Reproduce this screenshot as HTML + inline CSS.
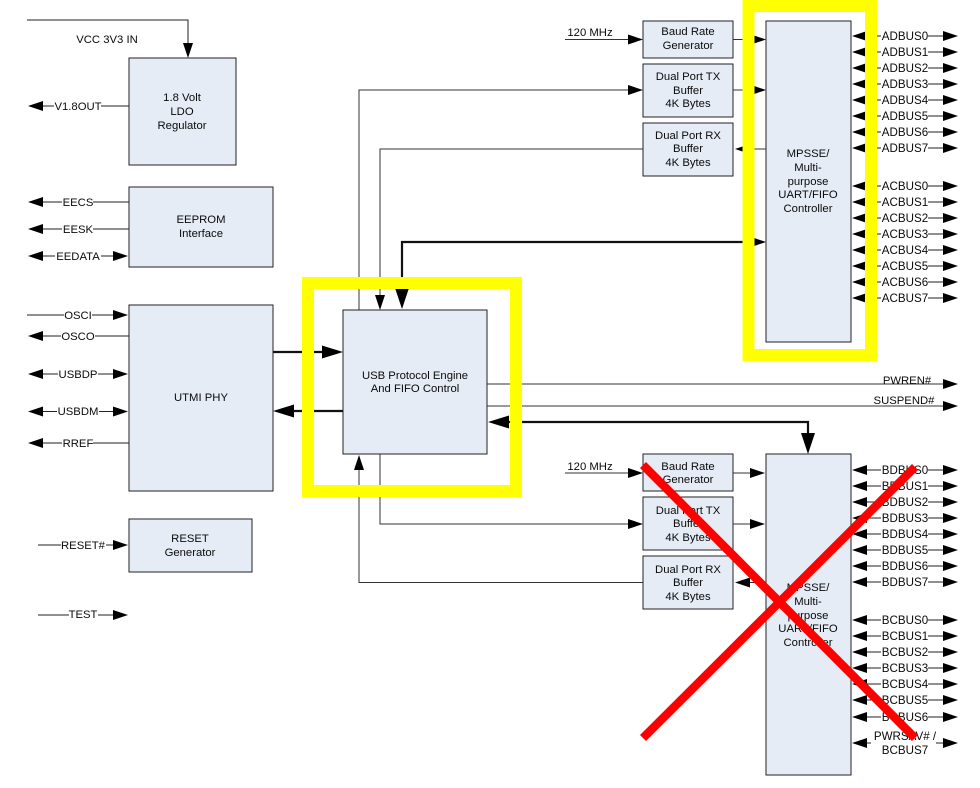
<!DOCTYPE html>
<html>
<head>
<meta charset="utf-8">
<style>
html,body{margin:0;padding:0;background:#fff;}
svg{display:block;}
text{font-family:"Liberation Sans",sans-serif;font-size:11.3px;fill:#0a0a0a;}
.c text,text.c{text-anchor:middle;}
.b text{font-size:11.6px;}
</style>
</head>
<body>
<svg width="980" height="788" viewBox="0 0 980 788" xmlns="http://www.w3.org/2000/svg">
<defs>
<polygon id="R" points="0,0 -15,-5 -15,5" fill="#000"/>
<polygon id="L" points="0,0 15,-5 15,5" fill="#000"/>
<polygon id="BR" points="0,0 -21,-6.5 -21,6.5" fill="#000"/>
<polygon id="BL" points="0,0 21,-6.5 21,6.5" fill="#000"/>
<polygon id="D" points="0,0 -5,-15 5,-15" fill="#000"/>
<polygon id="U" points="0,0 -5,15 5,15" fill="#000"/>
<polygon id="BD" points="0,0 -7,-21 7,-21" fill="#000"/>
</defs>

<!-- boxes -->
<g fill="#e6ecf6" stroke="#222" stroke-width="1">
<rect x="129" y="58" width="107" height="107"/>
<rect x="129" y="187" width="144" height="80"/>
<rect x="129" y="305" width="144" height="186"/>
<rect x="129" y="519" width="123" height="53"/>
<rect x="343" y="310" width="144" height="144"/>
<rect x="643" y="21" width="90" height="37"/>
<rect x="643" y="64" width="90" height="53"/>
<rect x="643" y="123" width="90" height="53"/>
<rect x="766" y="21" width="85" height="321"/>
<rect x="643" y="454" width="90" height="37"/>
<rect x="643" y="497" width="90" height="53"/>
<rect x="643" y="556" width="90" height="53"/>
<rect x="766" y="454" width="85" height="321"/>
</g>

<!-- left connectors -->
<g fill="none" stroke="#222" stroke-width="1">
<path d="M27 20H188V44"/>
<path d="M43 106H54M101 106H129"/>
<path d="M43 202H62M93 202H129"/>
<path d="M43 229H62M93 229H129"/>
<path d="M43 256H55M101 256H114"/>
<path d="M27 315H64M92 315H114"/>
<path d="M43 336H61M95 336H129"/>
<path d="M43 374H58M98 374H114"/>
<path d="M43 411.5H57M99 411.5H114"/>
<path d="M43 443H62M93 443H129"/>
<path d="M38 545H61M106 545H114"/>
<path d="M38 615H69M98 615H114"/>
</g>
<use href="#D" x="188" y="58"/>
<use href="#L" x="28" y="106"/>
<use href="#L" x="28" y="202"/>
<use href="#L" x="28" y="229"/>
<use href="#L" x="28" y="256"/><use href="#R" x="128" y="256"/>
<use href="#R" x="128" y="315"/>
<use href="#L" x="28" y="336"/>
<use href="#L" x="28" y="374"/><use href="#R" x="128" y="374"/>
<use href="#L" x="28" y="411.5"/><use href="#R" x="128" y="411.5"/>
<use href="#L" x="28" y="443"/>
<use href="#R" x="128" y="545"/>
<use href="#R" x="128" y="615"/>

<!-- thick connectors -->
<g fill="none" stroke="#111" stroke-width="2.2">
<path d="M273 352H325"/>
<path d="M343 411H292"/>
<path d="M402 292V242H752"/>
<path d="M505 422H808V438"/>
</g>
<use href="#BR" x="343" y="352"/>
<use href="#BL" x="273" y="411"/>
<use href="#BD" x="402" y="309"/>
<use href="#BL" x="488" y="422"/>
<use href="#BD" x="808" y="454"/>
<use href="#R" x="766" y="242"/>

<!-- thin connectors middle -->
<g fill="none" stroke="#333" stroke-width="1">
<path d="M359 310V90H630"/>
<path d="M643 149H380V296"/>
<path d="M565 39.5H630"/>
<path d="M733 39.5H752"/>
<path d="M733 90H752"/>
<path d="M766 149H748"/>
<path d="M487 384H945"/>
<path d="M487 406H945"/>
<path d="M565 473H630"/>
<path d="M733 473H752"/>
<path d="M380 454V524H630"/>
<path d="M733 524H752"/>
<path d="M643 582.5H359V468"/>
<path d="M766 582.5H748"/>
</g>
<use href="#R" x="643" y="90"/>
<use href="#D" x="380" y="310"/>
<use href="#R" x="643" y="39.5"/>
<use href="#R" x="766" y="39.5"/>
<use href="#R" x="766" y="90"/>
<use href="#L" x="735" y="149"/>
<use href="#R" x="958" y="384"/>
<use href="#R" x="958" y="406"/>
<use href="#R" x="643" y="473"/>
<use href="#R" x="765" y="473"/>
<use href="#R" x="643" y="524"/>
<use href="#R" x="765" y="524"/>
<use href="#U" x="359" y="455"/>
<use href="#L" x="735" y="582.5"/>

<!-- bus lines -->
<path fill="none" stroke="#222" stroke-width="1" d="
M866 36H881M928 36H943M866 52H881M928 52H943M866 68H881M928 68H943M866 84H881M928 84H943
M866 100H881M928 100H943M866 116H881M928 116H943M866 132H881M928 132H943M866 148H881M928 148H943
M866 186H881M928 186H943M866 202H881M928 202H943M866 218H881M928 218H943M866 234H881M928 234H943
M866 250H881M928 250H943M866 266H881M928 266H943M866 282H881M928 282H943M866 298H881M928 298H943
M866 470H881M928 470H943M866 486H881M928 486H943M866 502H881M928 502H943M866 518H881M928 518H943
M866 534H881M928 534H943M866 550H881M928 550H943M866 566H881M928 566H943M866 582H881M928 582H943
M866 620H881M928 620H943M866 636H881M928 636H943M866 652H881M928 652H943M866 668H881M928 668H943
M866 684H881M928 684H943M866 700H881M928 700H943M866 717H881M928 717H943
M866 743H871M936 743H943"/>

<g>
<use href="#L" x="852" y="36"/><use href="#R" x="958" y="36"/>
<use href="#L" x="852" y="52"/><use href="#R" x="958" y="52"/>
<use href="#L" x="852" y="68"/><use href="#R" x="958" y="68"/>
<use href="#L" x="852" y="84"/><use href="#R" x="958" y="84"/>
<use href="#L" x="852" y="100"/><use href="#R" x="958" y="100"/>
<use href="#L" x="852" y="116"/><use href="#R" x="958" y="116"/>
<use href="#L" x="852" y="132"/><use href="#R" x="958" y="132"/>
<use href="#L" x="852" y="148"/><use href="#R" x="958" y="148"/>
<use href="#L" x="852" y="186"/><use href="#R" x="958" y="186"/>
<use href="#L" x="852" y="202"/><use href="#R" x="958" y="202"/>
<use href="#L" x="852" y="218"/><use href="#R" x="958" y="218"/>
<use href="#L" x="852" y="234"/><use href="#R" x="958" y="234"/>
<use href="#L" x="852" y="250"/><use href="#R" x="958" y="250"/>
<use href="#L" x="852" y="266"/><use href="#R" x="958" y="266"/>
<use href="#L" x="852" y="282"/><use href="#R" x="958" y="282"/>
<use href="#L" x="852" y="298"/><use href="#R" x="958" y="298"/>
<use href="#L" x="852" y="470"/><use href="#R" x="958" y="470"/>
<use href="#L" x="852" y="486"/><use href="#R" x="958" y="486"/>
<use href="#L" x="852" y="502"/><use href="#R" x="958" y="502"/>
<use href="#L" x="852" y="518"/><use href="#R" x="958" y="518"/>
<use href="#L" x="852" y="534"/><use href="#R" x="958" y="534"/>
<use href="#L" x="852" y="550"/><use href="#R" x="958" y="550"/>
<use href="#L" x="852" y="566"/><use href="#R" x="958" y="566"/>
<use href="#L" x="852" y="582"/><use href="#R" x="958" y="582"/>
<use href="#L" x="852" y="620"/><use href="#R" x="958" y="620"/>
<use href="#L" x="852" y="636"/><use href="#R" x="958" y="636"/>
<use href="#L" x="852" y="652"/><use href="#R" x="958" y="652"/>
<use href="#L" x="852" y="668"/><use href="#R" x="958" y="668"/>
<use href="#L" x="852" y="684"/><use href="#R" x="958" y="684"/>
<use href="#L" x="852" y="700"/><use href="#R" x="958" y="700"/>
<use href="#L" x="852" y="717"/><use href="#R" x="958" y="717"/>
<use href="#L" x="852" y="743"/><use href="#R" x="958" y="743"/>
</g>

<!-- labels -->
<g class="c">
<text x="107" y="43">VCC 3V3 IN</text>
<text x="182" y="101">1.8 Volt</text>
<text x="182" y="115">LDO</text>
<text x="182" y="129">Regulator</text>
<text x="78" y="110">V1.8OUT</text>
<text x="78" y="206">EECS</text>
<text x="78" y="233">EESK</text>
<text x="78" y="260">EEDATA</text>
<text x="201" y="223">EEPROM</text>
<text x="201" y="237">Interface</text>
<text x="78" y="319">OSCI</text>
<text x="78" y="340">OSCO</text>
<text x="78" y="378">USBDP</text>
<text x="78" y="415">USBDM</text>
<text x="78" y="447">RREF</text>
<text x="83" y="549">RESET#</text>
<text x="83" y="618">TEST</text>
<text x="201" y="401">UTMI PHY</text>
<text x="190" y="542">RESET</text>
<text x="190" y="556">Generator</text>
<text x="415" y="379">USB Protocol Engine</text>
<text x="415" y="392">And FIFO Control</text>
<text x="590" y="36">120 MHz</text>
<text x="590" y="470">120 MHz</text>
<text x="688" y="35">Baud Rate</text>
<text x="688" y="49">Generator</text>
<text x="688" y="80">Dual Port TX</text>
<text x="688" y="94">Buffer</text>
<text x="688" y="107">4K Bytes</text>
<text x="688" y="139">Dual Port RX</text>
<text x="688" y="152">Buffer</text>
<text x="688" y="166">4K Bytes</text>
<text x="688" y="470">Baud Rate</text>
<text x="688" y="483">Generator</text>
<text x="688" y="514">Dual Port TX</text>
<text x="688" y="527">Buffer</text>
<text x="688" y="541">4K Bytes</text>
<text x="688" y="573">Dual Port RX</text>
<text x="688" y="586">Buffer</text>
<text x="688" y="600">4K Bytes</text>
<text x="808" y="157">MPSSE/</text>
<text x="808" y="171">Multi-</text>
<text x="808" y="185">purpose</text>
<text x="808" y="198">UART/FIFO</text>
<text x="808" y="212">Controller</text>
<text x="808" y="591">MPSSE/</text>
<text x="808" y="605">Multi-</text>
<text x="808" y="619">purpose</text>
<text x="808" y="632">UART/FIFO</text>
<text x="808" y="646">Controller</text>
<text x="907" y="384">PWREN#</text>
<text x="904" y="404">SUSPEND#</text>
</g>
<g class="c b">
<text x="905" y="40">ADBUS0</text>
<text x="905" y="56">ADBUS1</text>
<text x="905" y="72">ADBUS2</text>
<text x="905" y="88">ADBUS3</text>
<text x="905" y="104">ADBUS4</text>
<text x="905" y="120">ADBUS5</text>
<text x="905" y="136">ADBUS6</text>
<text x="905" y="152">ADBUS7</text>
<text x="905" y="190">ACBUS0</text>
<text x="905" y="206">ACBUS1</text>
<text x="905" y="222">ACBUS2</text>
<text x="905" y="238">ACBUS3</text>
<text x="905" y="254">ACBUS4</text>
<text x="905" y="270">ACBUS5</text>
<text x="905" y="286">ACBUS6</text>
<text x="905" y="302">ACBUS7</text>
<text x="905" y="474">BDBUS0</text>
<text x="905" y="490">BDBUS1</text>
<text x="905" y="506">BDBUS2</text>
<text x="905" y="522">BDBUS3</text>
<text x="905" y="538">BDBUS4</text>
<text x="905" y="554">BDBUS5</text>
<text x="905" y="570">BDBUS6</text>
<text x="905" y="586">BDBUS7</text>
<text x="905" y="624">BCBUS0</text>
<text x="905" y="640">BCBUS1</text>
<text x="905" y="656">BCBUS2</text>
<text x="905" y="672">BCBUS3</text>
<text x="905" y="688">BCBUS4</text>
<text x="905" y="704">BCBUS5</text>
<text x="905" y="721">BCBUS6</text>
<text x="905" y="740">PWRSAV# /</text>
<text x="905" y="754">BCBUS7</text>
</g>

<!-- highlights -->
<g fill="none" stroke="#ffff00" stroke-width="12">
<rect x="748.5" y="6" width="122.5" height="349"/>
<rect x="308" y="283" width="208" height="208"/>
</g>
<g stroke="#ff0000" stroke-width="8.5" fill="none">
<path d="M643 465L915 738"/>
<path d="M915 467L643 738"/>
</g>
</svg>
</body>
</html>
